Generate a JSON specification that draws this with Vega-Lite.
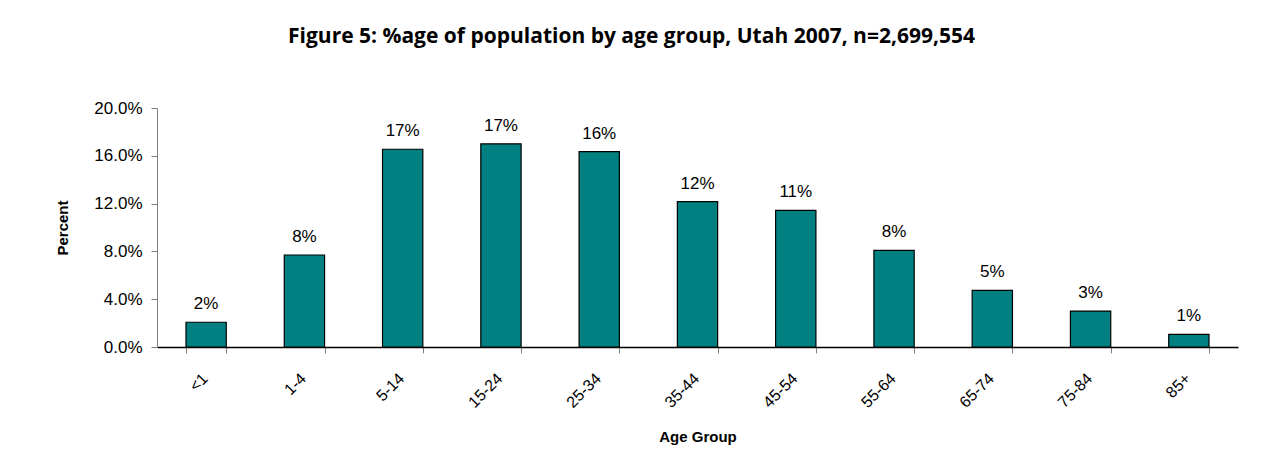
{
  "$schema": "https://vega.github.io/schema/vega-lite/v6.json",
  "autosize": "none",
  "width": 1081,
  "height": 239,
  "padding": {"left": 157, "top": 108, "right": 24, "bottom": 113},
  "background": "white",
  "config": {"view": {"stroke": null}, "font": "Liberation Sans"},
  "title": {
    "text": "Figure 5: %age of population by age group, Utah 2007, n=2,699,554",
    "font": "Open Sans",
    "fontSize": 21,
    "fontWeight": "bold",
    "color": "black",
    "anchor": "middle",
    "dx": -66,
    "offset": 52
  },
  "data": {
    "values": [
      {"age": "<1", "pct": 0.0207},
      {"age": "1-4", "pct": 0.077},
      {"age": "5-14", "pct": 0.1655},
      {"age": "15-24", "pct": 0.170},
      {"age": "25-34", "pct": 0.1635},
      {"age": "35-44", "pct": 0.1216},
      {"age": "45-54", "pct": 0.1144},
      {"age": "55-64", "pct": 0.0809},
      {"age": "65-74", "pct": 0.0474},
      {"age": "75-84", "pct": 0.0301},
      {"age": "85+", "pct": 0.0106}
    ]
  },
  "encoding": {
    "x": {
      "field": "age", "type": "nominal", "sort": null,
      "scale": {"paddingInner": 0.59, "paddingOuter": 0.295},
      "axis": {
        "title": "Age Group", "titleFont": "Liberation Sans", "titleFontSize": 15, "titleFontWeight": "bold", "titleColor": "black",
        "titlePadding": 19,
        "labelAngle": -45, "labelFontSize": 16, "labelColor": "black", "labelPadding": 17, "labelOffset": -7,
        "tickBand": "extent", "tickSize": 6, "tickColor": "#808080",
        "domainColor": "black", "domainWidth": 1.5
      }
    },
    "y": {
      "field": "pct", "type": "quantitative",
      "scale": {"domain": [0, 0.2], "nice": false},
      "axis": {
        "title": "Percent", "titleFont": "Liberation Sans", "titleFontSize": 15, "titleFontWeight": "bold", "titleColor": "black",
        "titlePadding": 23,
        "values": [0, 0.04, 0.08, 0.12, 0.16, 0.2], "format": ".1%",
        "labelFontSize": 17, "labelColor": "black", "labelPadding": 9,
        "grid": false, "tickSize": 6, "tickColor": "#808080", "domainColor": "#808080"
      }
    }
  },
  "layer": [
    {"mark": {"type": "bar", "fill": "#008080", "stroke": "black", "strokeWidth": 1.2}},
    {
      "mark": {"type": "text", "baseline": "alphabetic", "dy": -13, "fontSize": 17, "color": "black"},
      "encoding": {"text": {"field": "pct", "type": "quantitative", "format": ".0%"}}
    }
  ]
}
